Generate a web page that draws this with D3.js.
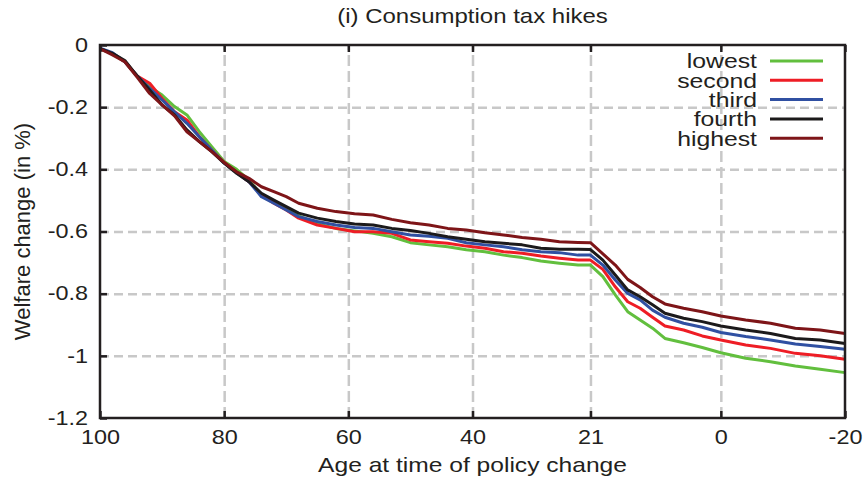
<!DOCTYPE html>
<html>
<head>
<meta charset="utf-8">
<script src="https://cdn.jsdelivr.net/npm/d3@7"></script>
<style>
  body { margin: 0; background: #fff; }
  svg text { font-family: "Liberation Sans", Arial, sans-serif; fill: #231f20; }
</style>
</head>
<body>
<script>
// ages on the x axis (runs from 100 down to -20)
let ages = [100, 98, 96, 94, 92, 90, 88, 86, 84, 82, 80, 78, 76, 74, 72, 70, 68, 65, 62, 59, 56, 53, 50, 47, 44, 41, 38, 35, 32, 29, 26, 23, 21, 19, 17, 15, 13, 11, 9, 6, 3, 0, -4, -8, -12, -16, -20];

// welfare change (in %) per income group
let lowest = [-0.012, -0.027, -0.054, -0.100, -0.134, -0.161, -0.198, -0.225, -0.279, -0.327, -0.375, -0.400, -0.435, -0.482, -0.505, -0.525, -0.550, -0.575, -0.590, -0.598, -0.606, -0.617, -0.636, -0.643, -0.649, -0.659, -0.665, -0.676, -0.684, -0.695, -0.702, -0.708, -0.708, -0.745, -0.804, -0.858, -0.885, -0.911, -0.944, -0.958, -0.973, -0.990, -1.008, -1.019, -1.033, -1.043, -1.054];
let second = [-0.012, -0.027, -0.054, -0.100, -0.123, -0.172, -0.215, -0.241, -0.295, -0.338, -0.378, -0.410, -0.440, -0.482, -0.509, -0.531, -0.557, -0.579, -0.590, -0.601, -0.601, -0.606, -0.627, -0.633, -0.638, -0.647, -0.654, -0.665, -0.670, -0.679, -0.686, -0.692, -0.692, -0.722, -0.778, -0.826, -0.847, -0.876, -0.904, -0.917, -0.936, -0.949, -0.965, -0.976, -0.992, -1.000, -1.011];
let third = [-0.010, -0.025, -0.054, -0.100, -0.139, -0.177, -0.215, -0.252, -0.295, -0.338, -0.380, -0.410, -0.440, -0.488, -0.509, -0.531, -0.552, -0.568, -0.579, -0.587, -0.590, -0.601, -0.611, -0.615, -0.622, -0.636, -0.643, -0.649, -0.659, -0.665, -0.668, -0.676, -0.676, -0.708, -0.756, -0.799, -0.820, -0.853, -0.876, -0.895, -0.908, -0.925, -0.938, -0.949, -0.962, -0.970, -0.979];
let fourth = [-0.012, -0.027, -0.050, -0.100, -0.145, -0.193, -0.225, -0.273, -0.311, -0.343, -0.380, -0.413, -0.440, -0.477, -0.499, -0.520, -0.541, -0.557, -0.568, -0.576, -0.579, -0.590, -0.597, -0.606, -0.617, -0.625, -0.633, -0.638, -0.643, -0.654, -0.657, -0.657, -0.658, -0.692, -0.740, -0.788, -0.810, -0.836, -0.863, -0.879, -0.890, -0.904, -0.917, -0.928, -0.944, -0.949, -0.960];
let highest = [-0.012, -0.032, -0.054, -0.104, -0.156, -0.193, -0.228, -0.279, -0.311, -0.343, -0.378, -0.408, -0.429, -0.456, -0.472, -0.488, -0.509, -0.525, -0.536, -0.543, -0.547, -0.561, -0.572, -0.579, -0.590, -0.595, -0.604, -0.611, -0.619, -0.625, -0.633, -0.635, -0.636, -0.672, -0.708, -0.754, -0.780, -0.810, -0.833, -0.847, -0.858, -0.872, -0.885, -0.895, -0.911, -0.917, -0.928];

let names = ["lowest", "second", "third", "fourth", "highest"];
let colors = ["#62bf3e", "#ee1d25", "#3050a2", "#1c1a1b", "#7e1518"];
let xTicks = [100, 80, 60, 40, 21, 0, -20];
let yTicks = [0, -0.2, -0.4, -0.6, -0.8, -1, -1.2];

let w = 868;
let h = 481;
let pLeft = 100, pRight = 845, pTop = 45, pBottom = 418;
let stretch = 1.2; // the original lettering is a bit wide

let series = [lowest, second, third, fourth, highest];

let x = d3.scaleLinear().domain([100, -20]).range([pLeft, pRight]);
let y = d3.scaleLinear().domain([0, -1.2]).range([pTop, pBottom]);

let svg = d3.select("body")
    .append("svg")
    .attr("width", w)
    .attr("height", h);

//grid
svg.append("g")
    .attr("transform", "translate(0," + pBottom + ")")
    .call(d3.axisBottom(x).tickValues(xTicks.slice(1, -1)).tickSize(-(pBottom - pTop)).tickFormat(""))
    .call(g => g.select(".domain").remove())
    .selectAll("line")
    .attr("stroke", "#c8c8c8")
    .attr("stroke-width", 2.5)
    .attr("stroke-dasharray", "11,5");

svg.append("g")
    .attr("transform", "translate(" + pLeft + ",0)")
    .call(d3.axisLeft(y).tickValues(yTicks.slice(1, -1)).tickSize(-(pRight - pLeft)).tickFormat(""))
    .call(g => g.select(".domain").remove())
    .selectAll("line")
    .attr("stroke", "#c8c8c8")
    .attr("stroke-width", 2.5)
    .attr("stroke-dasharray", "9,5");

//lines
let line = d3.line()
    .x((d, i) => x(ages[i]))
    .y(d => y(d));

for (let k = 0; k < series.length; k++) {
    svg.append("path")
        .datum(series[k])
        .attr("fill", "none")
        .attr("stroke", colors[k])
        .attr("stroke-width", 3)
        .attr("stroke-linejoin", "round")
        .attr("d", line);
}

//axes
let xAxis = svg.append("g")
    .attr("transform", "translate(0," + pBottom + ")")
    .call(d3.axisBottom(x).tickValues(xTicks).tickFormat(d => String(d)).tickSize(-7).tickSizeOuter(0).tickPadding(12));
xAxis.select(".domain").remove();
xAxis.selectAll("line").attr("stroke", "#231f20").attr("stroke-width", 2.5);
xAxis.selectAll("text")
    .attr("font-size", "19.5px")
    .attr("transform", "scale(" + stretch + ",1)");

let xTop = svg.append("g")
    .attr("transform", "translate(0," + pTop + ")")
    .call(d3.axisTop(x).tickValues(xTicks).tickFormat("").tickSize(-7).tickSizeOuter(0));
xTop.select(".domain").remove();
xTop.selectAll("line").attr("stroke", "#231f20").attr("stroke-width", 2.5);

let yAxis = svg.append("g")
    .attr("transform", "translate(" + pLeft + ",0)")
    .call(d3.axisLeft(y).tickValues(yTicks).tickFormat(d => String(d)).tickSize(-7).tickSizeOuter(0).tickPadding(10));
yAxis.select(".domain").remove();
yAxis.selectAll("line").attr("stroke", "#231f20").attr("stroke-width", 2.5);
yAxis.selectAll("text")
    .attr("font-size", "19.5px")
    .attr("transform", "scale(" + stretch + ",1)");

//frame
svg.append("rect")
    .attr("x", pLeft)
    .attr("y", pTop)
    .attr("width", pRight - pLeft)
    .attr("height", pBottom - pTop)
    .attr("fill", "none")
    .attr("stroke", "#231f20")
    .attr("stroke-width", 2.5);

//titles
svg.append("text")
    .attr("transform", "translate(" + (pLeft + pRight) / 2 + ",23) scale(" + stretch + ",1)")
    .attr("text-anchor", "middle")
    .attr("font-size", "20px")
    .text("(i) Consumption tax hikes");

svg.append("text")
    .attr("transform", "translate(" + (pLeft + pRight) / 2 + ",472) scale(" + stretch + ",1)")
    .attr("text-anchor", "middle")
    .attr("font-size", "20.5px")
    .text("Age at time of policy change");

svg.append("text")
    .attr("transform", "translate(30," + (pTop + pBottom) / 2 + ") rotate(-90)")
    .attr("text-anchor", "middle")
    .attr("font-size", "22px")
    .text("Welfare change (in %)");

//legend
for (let k = 0; k < names.length; k++) {
    let ly = 61 + k * 19.3;
    svg.append("text")
        .attr("transform", "translate(757," + ly + ") scale(1.18,1)")
        .attr("text-anchor", "end")
        .attr("dy", "0.35em")
        .attr("font-size", "21px")
        .text(names[k]);
    svg.append("line")
        .attr("x1", 770)
        .attr("x2", 823)
        .attr("y1", ly)
        .attr("y2", ly)
        .attr("stroke", colors[k])
        .attr("stroke-width", 3);
}
</script>
</body>
</html>
